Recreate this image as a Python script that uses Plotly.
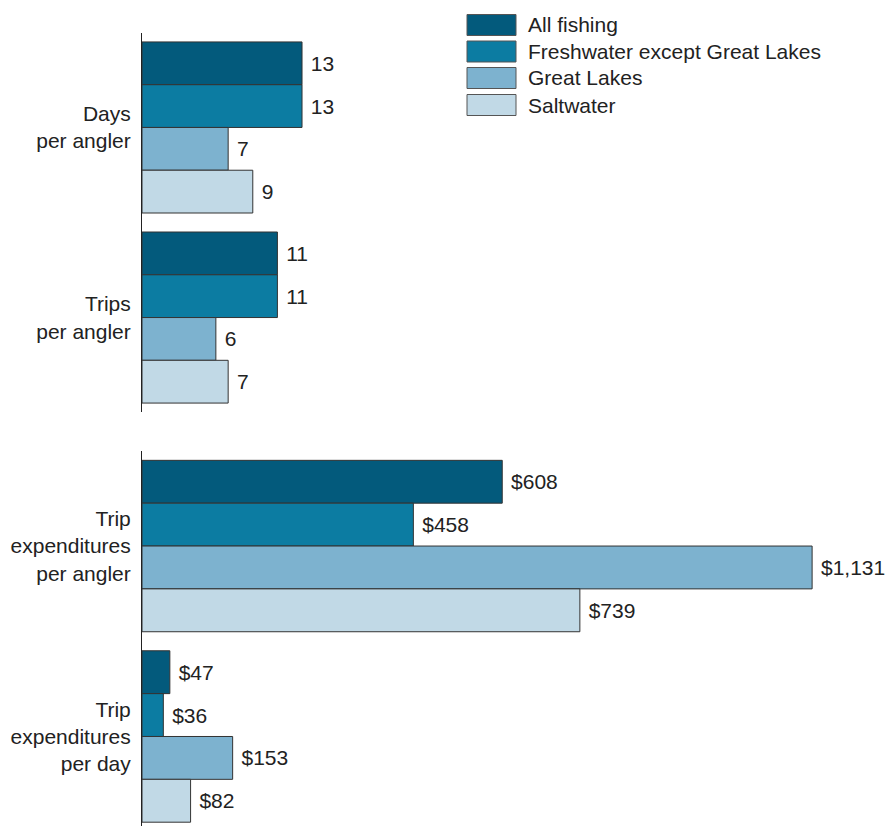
import plotly.graph_objects as go

# ---- data ----
series_names = ["All fishing", "Freshwater except Great Lakes", "Great Lakes", "Saltwater"]
series_colors = ["#035a7c", "#0c7ca2", "#7db2cf", "#c1d9e6"]

top_categories = ["Days<br>per angler", "Trips<br>per angler"]
bottom_categories = ["Trip<br>expenditures<br>per angler", "Trip<br>expenditures<br>per day"]

# values per series: [Days per angler, Trips per angler]
days_trips = {
    "All fishing": [13, 11],
    "Freshwater except Great Lakes": [13, 11],
    "Great Lakes": [7, 6],
    "Saltwater": [9, 7],
}
# values per series: [Trip expenditures per angler, Trip expenditures per day]
expenditures = {
    "All fishing": [608, 47],
    "Freshwater except Great Lakes": [458, 36],
    "Great Lakes": [1131, 153],
    "Saltwater": [739, 82],
}

W, H = 885, 826
FONT = "Liberation Sans, Arial, Helvetica, sans-serif"
TXT = "#222222"
FS = 21


def px(x):
    return x / W


def py(y):
    return 1 - y / H


fig = go.Figure()
for name, color in zip(series_names, series_colors):
    vals = days_trips[name]
    fig.add_trace(go.Bar(
        x=vals, y=top_categories, orientation="h", name=name,
        marker=dict(color=color, line=dict(color="#333333", width=1)),
        text=[f"\u00a0{v}" for v in vals], textposition="outside",
        textfont=dict(family=FONT, size=FS, color=TXT),
        cliponaxis=False, xaxis="x", yaxis="y", showlegend=False,
    ))
for name, color in zip(series_names, series_colors):
    vals = expenditures[name]
    fig.add_trace(go.Bar(
        x=vals, y=bottom_categories, orientation="h", name=name,
        marker=dict(color=color, line=dict(color="#333333", width=1)),
        text=[f"\u00a0${v:,}" for v in vals], textposition="outside",
        textfont=dict(family=FONT, size=FS, color=TXT),
        cliponaxis=False, xaxis="x2", yaxis="y2", showlegend=False,
    ))

x_dom = [px(142), 1.0]
plot_w = W - 142
yaxis_common = dict(
    type="category", showline=True, linecolor="#222222", linewidth=1,
    showgrid=False, zeroline=False, ticks="", ticklabelstandoff=6,
    tickfont=dict(family=FONT, size=FS, color=TXT),
)

shapes = []
annotations = []
legend_centers = [25, 51.5, 78, 105]
for name, color, cy in zip(series_names, series_colors, legend_centers):
    shapes.append(dict(
        type="rect", xref="paper", yref="paper",
        x0=px(467), x1=px(516), y0=py(cy + 10.5), y1=py(cy - 10.5),
        fillcolor=color, line=dict(color="#555555", width=1),
    ))
    annotations.append(dict(
        text=name, xref="paper", yref="paper", x=px(526), y=py(cy),
        xanchor="left", yanchor="middle", showarrow=False,
        font=dict(family=FONT, size=FS, color=TXT),
    ))

fig.update_layout(
    width=W, height=H,
    margin=dict(l=0, r=0, t=0, b=0),
    paper_bgcolor="white", plot_bgcolor="white",
    barmode="group", bargap=0.1, bargroupgap=0,
    font=dict(family=FONT, size=FS, color=TXT),
    hovermode=False,
    xaxis=dict(domain=x_dom, range=[0, plot_w / 12.31], visible=False, anchor="y"),
    xaxis2=dict(domain=x_dom, range=[0, plot_w / 0.5925], visible=False, anchor="y2"),
    yaxis=dict(domain=[py(412), py(33)], range=[1.497, -0.497],
               anchor="x", **yaxis_common),
    yaxis2=dict(domain=[0, py(451)], range=[1.47, -0.499],
                anchor="x2", **yaxis_common),
    shapes=shapes, annotations=annotations,
)

fig.write_html(
    "out.html",
    config={"displayModeBar": False},
    post_script="document.body.style.margin='0';document.body.style.overflow='hidden';",
)
